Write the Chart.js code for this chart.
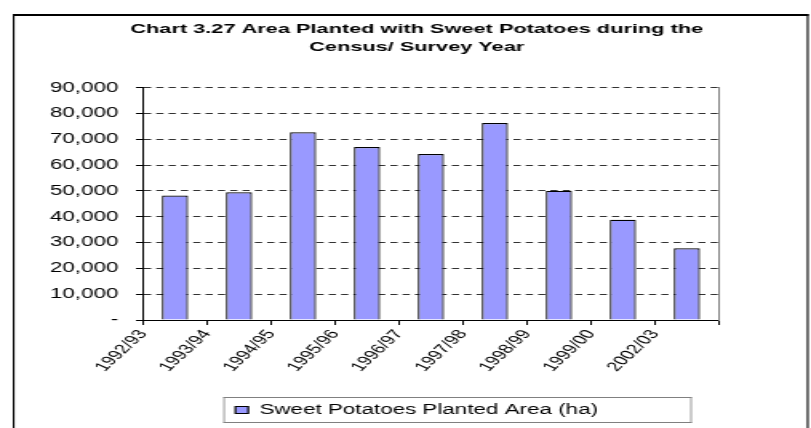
<!DOCTYPE html>
<html>
<head>
<meta charset="utf-8">
<script src="https://cdn.jsdelivr.net/npm/chart.js@4.4.1/dist/chart.umd.min.js"></script>
<style>
    html, body { margin: 0; padding: 0; background: #fff; overflow: hidden; }
    /* the original picture is stretched sideways, so draw narrow and stretch */
    #wrap { width: 507px; height: 428px; transform: scaleX(1.5996); transform-origin: 0 0; }
</style>
</head>
<body>
<div id="wrap"><canvas id="barChart" width="507" height="428"></canvas></div>
<script>
// Chart data
var categories = ['1992/93', '1993/94', '1994/95', '1995/96', '1996/97', '1997/98', '1998/99', '1999/00', '2002/03'];
var plantedArea = [48200, 49500, 72700, 67000, 64300, 76300, 50000, 38800, 27800];
var yTickValues = [0, 10000, 20000, 30000, 40000, 50000, 60000, 70000, 80000, 90000];
var titleLines = ['Chart 3.27 Area Planted with Sweet Potatoes during the', 'Census/ Survey Year'];
var seriesLabel = 'Sweet Potatoes Planted Area (ha)';

var fontFamily = '"Liberation Sans", Arial, sans-serif';

// Outer frame and legend frame
var framePlugin = {
    id: 'frames',
    afterDraw: function (chart) {
        var ctx = chart.ctx;
        ctx.save();
        // outer chart border
        ctx.fillStyle = '#000';
        ctx.fillRect(8, 14, 497.5, 2);
        ctx.fillRect(8, 14, 1.1, 420);
        ctx.fillRect(504.4, 14, 1.1, 420);

        // legend border
        var hb = chart.legend.legendHitBoxes[0];
        if (hb) {
            var cy = hb.top + hb.height / 2;
            var left = hb.left - 7.5;
            var right = chart.chartArea.right - 17;
            ctx.fillStyle = '#808080';
            ctx.fillRect(left, cy - 13, right - left, 1);
            ctx.fillRect(left, cy + 12, right - left, 1);
            ctx.fillRect(left, cy - 13, 0.8, 26);
            ctx.fillRect(right - 0.8, cy - 13, 0.8, 26);
        }
        ctx.restore();
    }
};

function generateBarChart() {
    var ctx = document.getElementById('barChart').getContext('2d');

    new Chart(ctx, {
        type: 'bar',
        data: {
            labels: categories,
            datasets: [{
                label: seriesLabel,
                data: plantedArea,
                backgroundColor: '#9999FF',
                borderColor: '#000',
                borderWidth: 1.2,
                barPercentage: 0.41,
                categoryPercentage: 1.0
            }]
        },
        options: {
            responsive: false,
            animation: false,
            layout: { padding: { left: 14, right: 0, top: 0, bottom: 1 } },
            scales: {
                x: {
                    afterFit: function (scale) { scale.height = 73; },
                    border: { display: true, color: '#000', width: 1 },
                    grid: {
                        offset: true,
                        drawOnChartArea: false,
                        drawTicks: true,
                        tickLength: 5,
                        color: '#000'
                    },
                    ticks: {
                        autoSkip: false,
                        maxRotation: 55,
                        minRotation: 55,
                        labelOffset: -20,
                        padding: 2,
                        color: '#000',
                        font: { family: fontFamily, size: 13 }
                    }
                },
                y: {
                    min: 0,
                    max: 90000,
                    afterFit: function (scale) { scale.width = 75.4; },
                    afterBuildTicks: function (scale) {
                        scale.ticks = yTickValues.map(v => ({ value: v }));
                    },
                    grid: {
                        color: '#333',
                        lineWidth: 1,
                        drawTicks: true,
                        tickLength: 4.4,
                        tickColor: '#000',
                        tickBorderDash: []
                    },
                    // axis line solid, grid lines dashed
                    border: { display: true, color: '#000', width: 1, dash: [4.5, 3.2] },
                    ticks: {
                        padding: 11,
                        color: '#000',
                        font: { family: fontFamily, size: 14 },
                        callback: function (value) {
                            return value === 0 ? '-' : value.toLocaleString('en-US');
                        }
                    }
                },
                y2: {
                    type: 'linear',
                    position: 'right',
                    min: 0,
                    max: 1,
                    afterFit: function (scale) { scale.width = 57.6; },
                    grid: { display: false },
                    ticks: { display: false },
                    border: { display: true, color: '#808080', width: 1 }
                }
            },
            plugins: {
                title: {
                    display: true,
                    text: titleLines,
                    color: '#000',
                    font: { family: fontFamily, size: 13.6, weight: 'bold', lineHeight: 1.3 },
                    padding: { top: 20.5, bottom: 31.8 }
                },
                legend: {
                    position: 'bottom',
                    labels: {
                        color: '#000',
                        boxWidth: 8,
                        boxHeight: 7,
                        padding: 10,
                        font: { family: fontFamily, size: 14 }
                    }
                },
                tooltip: { enabled: false }
            }
        },
        plugins: [framePlugin]
    });
}

generateBarChart();
</script>
</body>
</html>
